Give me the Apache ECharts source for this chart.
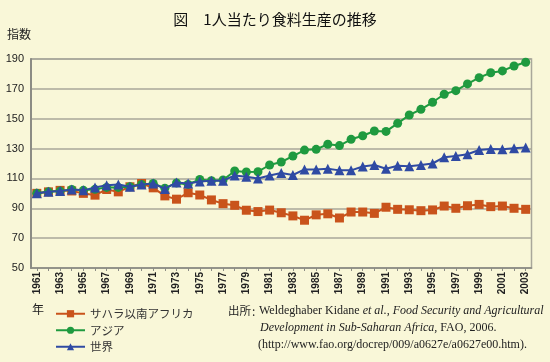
<!DOCTYPE html>
<html><head><meta charset="utf-8">
<script src="https://cdn.jsdelivr.net/npm/echarts@6/dist/echarts.min.js"></script>
<style>html,body{margin:0;padding:0;background:#f9f7d8;}#c{width:550px;height:362px;}</style>
</head><body><div id="c"></div>
<script>
const years = [];
for (let y = 1961; y <= 2003; y++) years.push(String(y));
const africa = [100,101,102,101.6,100,98.8,102.6,101,104.4,106.6,103.7,98.3,96.1,100.4,98.9,95.6,93.1,92,88.7,87.8,88.8,87,84.9,82,85.6,86.3,83.5,87.5,87.5,86.6,90.7,89.3,89,88.4,88.9,91.5,90,91.7,92.6,91.1,91.5,90,89.3];
const asia = [100,101,101.5,102.6,102,102.7,104,104,104.4,106,106.6,103.5,107,106,109.3,108.5,109,115,114.3,114.5,119,121,125,129,129.5,132.9,132,136.2,138.6,141.8,141.5,146.9,152.5,156.3,161,166.4,168.8,173.3,177.5,180.8,182,185.3,187.8];
const world = [100,101,101.5,102.6,102,104,105.5,106,104.4,106,106.6,103,107.3,106.6,108,108.5,108.5,112,111.2,110,112,113.7,112.3,116,116,116.5,115.4,115.4,118,119,116.5,118.5,118.2,119,120,124.2,125,126.2,129,129.7,129.5,130.2,130.8];
const seriesNames = ['サハラ以南アフリカ','アジア','世界'];
const yTickLabels = [50,70,90,110,130,150,170,190];

const jp = '"Noto Sans CJK JP", sans-serif';
const chart = echarts.init(document.getElementById('c'), null, {renderer:'canvas'});
chart.setOption({
  backgroundColor:'#f9f7d8',
  animation:false,
  title:{text:'図　1人当たり食料生産の推移', left:'center', top:7,
    textStyle:{fontFamily:jp, fontSize:15, fontWeight:'normal', color:'#111'}},
  grid:{left:31, right:18.5, top:59, bottom:94, show:true, borderColor:'#a9a79a', borderWidth:1.5, backgroundColor:'transparent'},
  legend:{orient:'vertical', left:55, top:308, padding:0, itemWidth:29, itemHeight:9, itemGap:5,
    data:seriesNames, textStyle:{fontFamily:jp, fontSize:11.5, color:'#333'}},
  xAxis:{type:'category', data:years, boundaryGap:true,
    axisLine:{lineStyle:{color:'#8c8c84', width:1.5}},
    axisTick:{show:true, interval:0, alignWithLabel:true, length:3, lineStyle:{color:'#8c8c84'}},
    axisLabel:{interval:1, rotate:90, margin:4, fontFamily:'"Liberation Sans", Arial, sans-serif', fontSize:10, fontWeight:'bold', color:'#222'}},
  yAxis:{type:'value', min:50, max:190, interval:10,
    axisLine:{show:true, lineStyle:{color:'#8c8c84', width:2}},
    axisTick:{show:false},
    axisLabel:{margin:7, fontFamily:'"Liberation Sans", Arial, sans-serif', fontSize:11, color:'#222',
      formatter:v => yTickLabels.indexOf(v) >= 0 ? String(v) : ''},
    splitLine:{show:true, lineStyle:{color:['#a9a79a','rgba(0,0,0,0)'], width:1.5}}},
  series:[
    {name:seriesNames[0], type:'line', data:africa, symbol:'rect', symbolSize:9, showAllSymbol:true,
      itemStyle:{color:'#c9531b'}, lineStyle:{color:'#c9531b', width:2}, z:2},
    {name:seriesNames[1], type:'line', data:asia, symbol:'circle', symbolSize:9, showAllSymbol:true,
      itemStyle:{color:'#1f9a3f'}, lineStyle:{color:'#1f9a3f', width:2}, z:3},
    {name:seriesNames[2], type:'line', data:world, symbol:'triangle', symbolSize:10, showAllSymbol:true,
      itemStyle:{color:'#2f4aa3'}, lineStyle:{color:'#2f4aa3', width:2}, z:4}
  ],
  graphic:[
    {type:'text', left:7, top:28, style:{text:'指数', font:'12px '+jp, fill:'#222'}},
    {type:'text', left:32, top:303, style:{text:'年', font:'12px '+jp, fill:'#222'}},
    {type:'text', left:228, top:305, style:{text:'出所', font:'11.5px '+jp, fill:'#222'}},
    {type:'text', left:252, top:305, style:{text:':', font:'12px '+jp, fill:'#222'}},
    {type:'text', left:259, top:305, style:{
      text:'{n|Weldeghaber Kidane }{i|et al.}{n|, }{i|Food Security and Agricultural}',
      rich:{n:{fontFamily:'"Liberation Serif", serif', fontSize:12, fill:'#222'},
            i:{fontFamily:'"Liberation Serif", serif', fontSize:12, fontStyle:'italic', fill:'#222'}}}},
    {type:'text', left:260, top:322, style:{
      text:'{i|Development in Sub-Saharan Africa}{n|, FAO, 2006.}',
      rich:{n:{fontFamily:'"Liberation Serif", serif', fontSize:12, fill:'#222'},
            i:{fontFamily:'"Liberation Serif", serif', fontSize:12, fontStyle:'italic', fill:'#222'}}}},
    {type:'text', left:258, top:339, style:{text:'(http://www.fao.org/docrep/009/a0627e/a0627e00.htm).',
      font:'12px "Liberation Serif", serif', fill:'#222'}}
  ]
});
</script></body></html>
